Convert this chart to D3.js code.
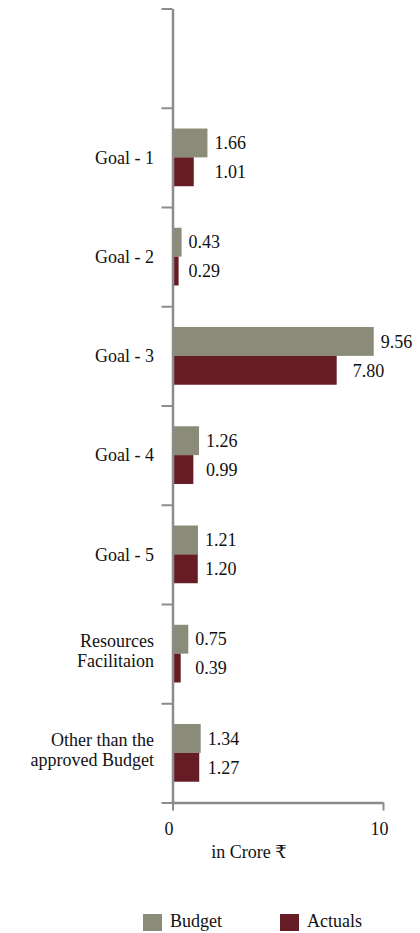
<!DOCTYPE html>
<html>
<head>
<meta charset="utf-8">
<script src="https://cdn.jsdelivr.net/npm/d3@7"></script>
<style>
  body { margin: 0; background: #fff; }
  svg { display: block; }
  text { font-family: "Liberation Serif", "Times New Roman", "DejaVu Serif", serif; fill: #111; }
</style>
</head>
<body>
<svg id="chart" width="420" height="933"></svg>
<script>
// Goal-wise budget vs actual spending (in crore rupees)
const categories = ["", "Goal - 1", "Goal - 2", "Goal - 3", "Goal - 4", "Goal - 5",
                    "Resources\nFacilitaion", "Other than the\napproved Budget"];
const budget  = [null, 1.66, 0.43, 9.56, 1.26, 1.21, 0.75, 1.34];
const actuals = [null, 1.01, 0.29, 7.80, 0.99, 1.20, 0.39, 1.27];
const seriesNames = ["Budget", "Actuals"];
const xTicks = [0, 10];
const xTitle = "in Crore ₹";

const colors = { Budget: "#8a8b78", Actuals: "#661c24" };
const axisColor = "#8c8c8c";

const svg = d3.select("#chart");

const plot = { left: 172.5, right: 383, top: 8.5, bottom: 802.5 };

const x = d3.scaleLinear().domain([0, 10]).range([plot.left, plot.right]);
const y = d3.scaleBand().domain(categories).range([plot.top, plot.bottom]).padding(0);
const ySub = d3.scaleBand().domain(seriesNames).range([0, y.bandwidth()])
  .paddingInner(0).paddingOuter(0.72);

const rows = categories.map((c, i) => ({
  category: c,
  values: [
    { series: "Budget", value: budget[i] },
    { series: "Actuals", value: actuals[i] }
  ]
})).filter(r => r.values[0].value != null);

// Bars
const groups = svg.append("g").selectAll("g.row")
  .data(rows).join("g")
  .attr("class", "row")
  .attr("transform", d => `translate(0,${y(d.category)})`);

groups.selectAll("rect")
  .data(d => d.values)
  .join("rect")
  .attr("x", x(0))
  .attr("y", d => ySub(d.series))
  .attr("width", d => x(d.value) - x(0))
  .attr("height", ySub.bandwidth())
  .attr("fill", d => colors[d.series]);

// Value labels: aligned together when the pair is close, otherwise next to own bar
groups.selectAll("text.val")
  .data(d => {
    const pairMax = d3.max(d.values, v => v.value);
    return d.values.map(v => ({ ...v, pairMax }));
  })
  .join("text")
  .attr("class", "val")
  .attr("x", d => (d.pairMax - d.value < 1) ? x(d.pairMax) + 7 : x(d.value) + 16)
  .attr("y", d => ySub(d.series) + ySub.bandwidth() / 2)
  .attr("dy", "0.35em")
  .attr("font-size", 18)
  .text(d => d.value.toFixed(2));

// Vertical axis with ticks at band boundaries
const yEdges = d3.scaleLinear().domain([0, categories.length]).range([plot.top, plot.bottom]);
const yAxis = svg.append("g")
  .attr("transform", `translate(${plot.left},0)`)
  .call(d3.axisLeft(yEdges).tickValues(d3.range(categories.length + 1))
    .tickSize(11).tickSizeOuter(0).tickFormat(""));
yAxis.select(".domain").attr("stroke", axisColor).attr("stroke-width", 2.5);
yAxis.selectAll(".tick line").attr("stroke", axisColor).attr("stroke-width", 2);

// Category labels
const catLabels = svg.append("g").selectAll("text.cat")
  .data(categories.filter(c => c !== ""))
  .join("text")
  .attr("class", "cat")
  .attr("text-anchor", "end")
  .attr("font-size", 18)
  .attr("transform", d => `translate(154,${y(d) + y.bandwidth() / 2})`);

catLabels.each(function (d) {
  const lines = d.split("\n");
  const lh = 20.5;
  const t = d3.select(this);
  lines.forEach((ln, i) => {
    t.append("tspan")
      .attr("x", 0)
      .attr("y", (i - (lines.length - 1) / 2) * lh - 3 * (lines.length - 1))
      .attr("dy", "0.35em")
      .text(ln);
  });
});

// Horizontal axis
const xAxis = svg.append("g")
  .attr("transform", `translate(0,${plot.bottom})`)
  .call(d3.axisBottom(x).tickValues(xTicks).tickSize(8).tickSizeOuter(0).tickFormat(d3.format("d")));
xAxis.select(".domain").attr("stroke", axisColor).attr("stroke-width", 2.5);
xAxis.selectAll(".tick line").attr("stroke", axisColor).attr("stroke-width", 2);
xAxis.selectAll(".tick text")
  .attr("y", 32).attr("dy", 0).attr("x", -4)
  .attr("font-size", 18)
  .attr("font-family", "Liberation Serif, serif")
  .attr("fill", "#111");

svg.append("text")
  .attr("x", 249).attr("y", 858)
  .attr("text-anchor", "middle")
  .attr("font-size", 18)
  .text(xTitle);

// Legend
const legendX = [143, 280];
const legend = svg.append("g").selectAll("g.leg")
  .data(seriesNames).join("g")
  .attr("class", "leg")
  .attr("transform", (d, i) => `translate(${legendX[i]},914)`);
legend.append("rect")
  .attr("width", 19).attr("height", 17)
  .attr("fill", d => colors[d]);
legend.append("text")
  .attr("x", 27).attr("y", 13)
  .attr("font-size", 18)
  .text(d => d);
</script>
</body>
</html>
